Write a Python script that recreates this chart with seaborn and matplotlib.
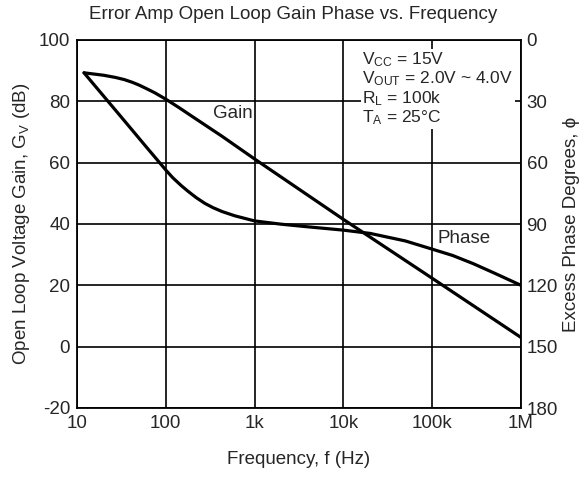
import numpy as np
import pandas as pd
import matplotlib
matplotlib.use("Agg")
import matplotlib.pyplot as plt
import seaborn as sns

# ---- data ----
gain_freq = [12, 15, 20, 27, 34, 42, 50, 60, 75, 100, 140, 200, 430, 1000,
             10000, 100000, 1000000]
gain_db = [89.3, 88.95, 88.5, 87.8, 87.1, 86.2, 85.3, 84.2, 82.8, 80.7, 78.0, 75.0,
           68.6, 61.2, 41.5, 22.3, 3.0]

phase_freq = [12, 34, 60, 100, 120, 150, 178, 220, 275, 340, 430, 600, 1000, 2000,
              3800, 10000, 20000, 50000, 100000, 170000, 290000, 500000, 1000000]
phase_deg = [16.05, 39.4, 52.2, 63.6, 67.4, 71.3, 74.0, 77.1, 79.9, 82.0, 83.9,
             86.0, 88.5, 90.1, 91.3, 93.0, 94.6, 98.3, 102.3, 105.4, 109.4,
             114.0, 120.0]

x_ticks = [10, 100, 1000, 10000, 100000, 1000000]
x_labels = ["10", "100", "1k", "10k", "100k", "1M"]
y_ticks = [-20, 0, 20, 40, 60, 80, 100]
phase_ticks = [0, 30, 60, 90, 120, 150, 180]

title = "Error Amp Open Loop Gain Phase vs. Frequency"
conditions = [r"V$_{\mathregular{CC}}$ = 15V",
              r"V$_{\mathregular{OUT}}$ = 2.0V ~ 4.0V",
              r"R$_{\mathregular{L}}$ = 100k",
              r"T$_{\mathregular{A}}$ = 25°C"]

FS = 13.5

sns.set_style("white")
plt.rcParams["font.family"] = ["Liberation Sans", "DejaVu Sans"]
plt.rcParams["mathtext.fontset"] = "custom"
plt.rcParams["mathtext.rm"] = "Liberation Sans"
plt.rcParams["mathtext.it"] = "Liberation Sans"
plt.rcParams["axes.unicode_minus"] = False

fig = plt.figure(figsize=(5.86, 4.79), dpi=100)
ax = fig.add_axes([77 / 586, 1 - 408 / 479, (521 - 77) / 586, (408 - 40) / 479])

gdf = pd.DataFrame({"f": gain_freq, "v": gain_db})
pdf = pd.DataFrame({"f": phase_freq, "v": phase_deg})

sns.lineplot(data=gdf, x="f", y="v", ax=ax, color="black", linewidth=2.3)
ax.set_xscale("log")
ax.set_ylim(-20, 100)
ax.set_yticks(y_ticks)
ax.grid(True, color="black", linewidth=1.2)
for s in ax.spines.values():
    s.set_color("black")
    s.set_linewidth(1.3)
ax.set_xlabel("Frequency, f (Hz)", fontsize=FS, labelpad=14)
ax.set_ylabel(r"Open Loop Voltage Gain, G$_{\mathregular{V}}$ (dB)", fontsize=FS, labelpad=5)

ax2 = ax.twinx()
sns.lineplot(data=pdf, x="f", y="v", ax=ax2, color="black", linewidth=2.3)
ax2.set_xscale("log")
ax2.set_ylim(180, 0)
ax2.set_yticks(phase_ticks)
ax2.tick_params(length=0, labelsize=FS, pad=4)
ax2.set_ylabel("Excess Phase Degrees, ϕ", fontsize=FS, labelpad=4)
ax2.grid(False)
for s in ax2.spines.values():
    s.set_visible(False)

# x ticks set after the twin so the log scale reset does not override them
ax.set_xlim(10, 1e6)
ax.set_xticks(x_ticks)
ax.set_xticklabels(x_labels)
ax.minorticks_off()
ax2.minorticks_off()
ax.tick_params(length=0, labelsize=FS, pad=5)

ax.text(575, 76.1, "Gain", fontsize=FS, ha="center", va="center")
ax.text(230000, 35.4, "Phase", fontsize=FS, ha="center", va="center")

ax.text(0.643, 0.972, "\n".join(conditions), transform=ax.transAxes, fontsize=12.5,
        ha="left", va="top", linespacing=1.05,
        bbox=dict(facecolor="white", edgecolor="none", pad=1.0), zorder=1.5)

fig.suptitle(title, fontsize=FS, y=0.988)
fig.savefig("out.png", dpi=100)
